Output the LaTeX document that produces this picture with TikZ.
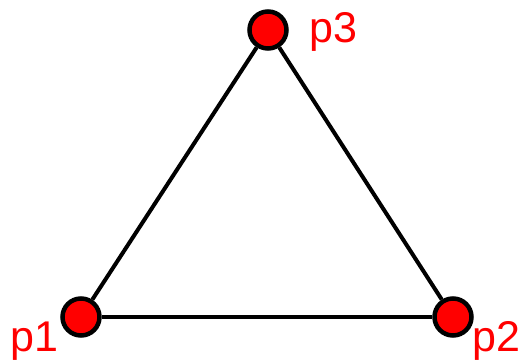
\documentclass[tikz,border=0pt]{standalone}
\usepackage{fontspec}
\setmainfont{Liberation Sans}

\begin{document}
\begin{tikzpicture}[x=1pt, y=1pt,
    vertex/.style={circle, draw=black, fill=red, line width=4.5pt, minimum size=37pt, inner sep=0pt},
    edge/.style={draw=black, line width=4pt},
    plabel/.style={anchor=base west, inner sep=0pt, text=red, font=\fontsize{43}{43}\selectfont}]
    \useasboundingbox (0,0) rectangle (527,363);
    \node[vertex] (p1) at (81,46) {};
    \node[vertex] (p2) at (453,46) {};
    \node[vertex] (p3) at (268,333) {};
    \draw[edge] (p1) -- (p2);
    \draw[edge] (p2) -- (p3);
    \draw[edge] (p3) -- (p1);
    \node[plabel] (l1) at (10,11) {p1};
    \node[plabel] (l2) at (472,11) {p2};
    \node[plabel] (l3) at (309,320) {p3};
\end{tikzpicture}
\end{document}
